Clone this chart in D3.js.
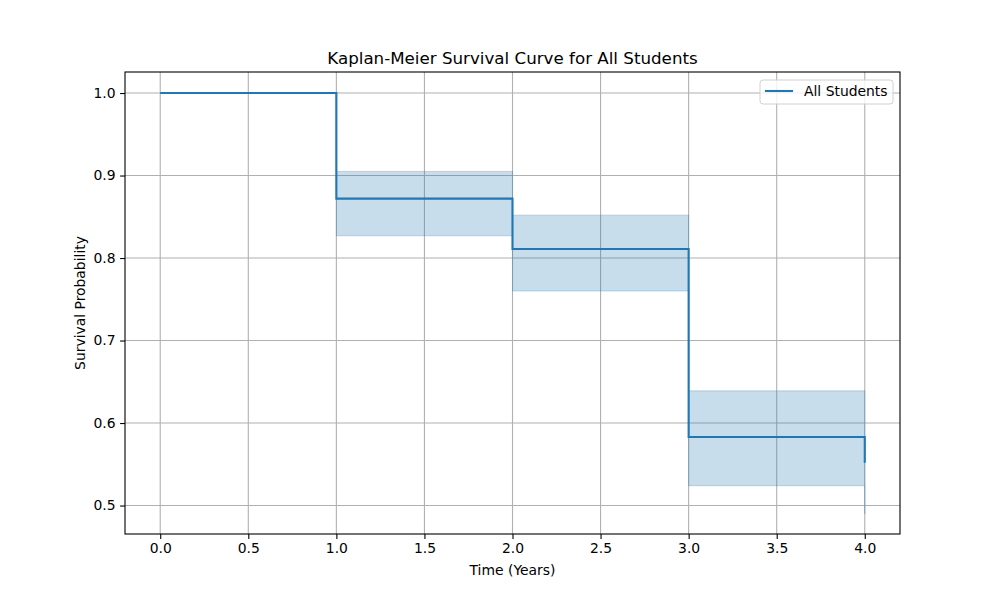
<!DOCTYPE html>
<html>
<head>
<meta charset="utf-8">
<script src="https://cdn.jsdelivr.net/npm/d3@7"></script>
<style>
  body { margin: 0; background: #fff; }
  text { font-family: "DejaVu Sans", sans-serif; fill: #000; }
</style>
</head>
<body>
<script>
// Kaplan-Meier estimates
const times = [0, 1, 2, 3, 4];
const survival = [1.0, 0.872, 0.811, 0.583, 0.552];
const ciUpper = [1.0, 0.905, 0.852, 0.639, 0.61];
const ciLower = [1.0, 0.827, 0.760, 0.524, 0.49];
const xTicks = [0, 0.5, 1, 1.5, 2, 2.5, 3, 3.5, 4];
const yTicks = [0.5, 0.6, 0.7, 0.8, 0.9, 1.0];

const width = 1000, height = 600;
const margin = { left: 125, right: 100, top: 72, bottom: 66 };
const blue = "#1f77b4";

let svg = d3.select("body").append("svg")
  .attr("width", width)
  .attr("height", height);

let x = d3.scaleLinear().domain([-0.2, 4.2]).range([margin.left, width - margin.right]);
let y = d3.scaleLinear().domain([0.4655, 1.0255]).range([height - margin.bottom, margin.top]);

let data = times.map((t, i) => ({ t, s: survival[i], hi: ciUpper[i], lo: ciLower[i] }));

// grid
let grid = svg.append("g");
grid.selectAll(".gx").data(xTicks).join("line")
  .attr("x1", d => x(d)).attr("x2", d => x(d))
  .attr("y1", margin.top).attr("y2", height - margin.bottom)
  .attr("stroke", "#b0b0b0").attr("stroke-width", 1.1);
grid.selectAll(".gy").data(yTicks).join("line")
  .attr("y1", d => y(d)).attr("y2", d => y(d))
  .attr("x1", margin.left).attr("x2", width - margin.right)
  .attr("stroke", "#b0b0b0").attr("stroke-width", 1.1);

// confidence band
let area = d3.area()
  .x(d => x(d.t))
  .y0(d => y(d.lo))
  .y1(d => y(d.hi))
  .curve(d3.curveStepAfter);
svg.append("path").datum(data)
  .attr("d", area)
  .attr("fill", blue).attr("fill-opacity", 0.25)
  .attr("stroke", blue).attr("stroke-opacity", 0.25).attr("stroke-width", 1);

// survival step line
let line = d3.line()
  .x(d => x(d.t))
  .y(d => y(d.s))
  .curve(d3.curveStepAfter);
svg.append("path").datum(data)
  .attr("d", line)
  .attr("fill", "none")
  .attr("stroke", blue).attr("stroke-width", 2.1);

// axes
let xAxis = svg.append("g")
  .attr("transform", `translate(0,${height - margin.bottom})`)
  .call(d3.axisBottom(x).tickValues(xTicks).tickFormat(d3.format(".1f")).tickSize(4.9).tickPadding(4.5));
let yAxis = svg.append("g")
  .attr("transform", `translate(${margin.left},0)`)
  .call(d3.axisLeft(y).tickValues(yTicks).tickFormat(d3.format(".1f")).tickSize(4.9).tickPadding(4.5));
[xAxis, yAxis].forEach(a => {
  a.select(".domain").remove();
  a.selectAll("text").attr("font-size", 13.9).attr("font-family", "DejaVu Sans");
  a.selectAll("line").attr("stroke", "#000").attr("stroke-width", 1.1);
});

// frame
svg.append("rect")
  .attr("x", margin.left).attr("y", margin.top)
  .attr("width", width - margin.left - margin.right)
  .attr("height", height - margin.top - margin.bottom)
  .attr("fill", "none").attr("stroke", "#000").attr("stroke-width", 1.1);

// labels
svg.append("text")
  .attr("x", (margin.left + width - margin.right) / 2).attr("y", 64)
  .attr("text-anchor", "middle").attr("font-size", 16.7)
  .text("Kaplan-Meier Survival Curve for All Students");
svg.append("text")
  .attr("x", (margin.left + width - margin.right) / 2).attr("y", 575)
  .attr("text-anchor", "middle").attr("font-size", 13.9)
  .text("Time (Years)");
svg.append("text")
  .attr("transform", `translate(85,${(margin.top + height - margin.bottom) / 2}) rotate(-90)`)
  .attr("text-anchor", "middle").attr("font-size", 13.9)
  .text("Survival Probability");

// legend
let lg = svg.append("g").attr("transform", "translate(760,80)");
lg.append("rect")
  .attr("width", 133).attr("height", 24).attr("rx", 3)
  .attr("fill", "#fff").attr("fill-opacity", 0.8)
  .attr("stroke", "#d0d0d0").attr("stroke-width", 1);
lg.append("line")
  .attr("x1", 5).attr("x2", 33).attr("y1", 11).attr("y2", 11)
  .attr("stroke", blue).attr("stroke-width", 2.1);
lg.append("text")
  .attr("x", 44).attr("y", 16).attr("font-size", 13.9)
  .text("All Students");
</script>
</body>
</html>
